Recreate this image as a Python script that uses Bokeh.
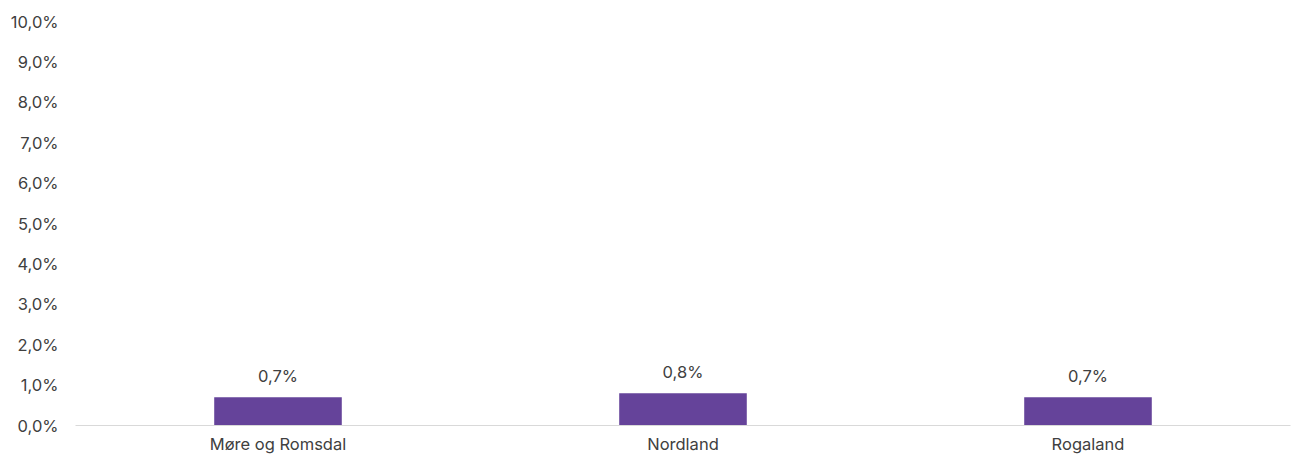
from bokeh.plotting import figure
from bokeh.models import ColumnDataSource, FixedTicker, Range1d
from bokeh.embed import file_html
from bokeh.resources import INLINE
from bokeh.core.properties import value

categories = ["Møre og Romsdal", "Nordland", "Rogaland"]
values = [0.7, 0.8, 0.7]
value_labels = ["0,7%", "0,8%", "0,7%"]
y_ticks = [0, 1, 2, 3, 4, 5, 6, 7, 8, 9, 10]
y_tick_labels = {t: f"{t},0%" for t in y_ticks}

FONT = "Inter"
FS = "16.5px"
TXT = "#404040"
BAR = "#65439A"

src = ColumnDataSource(dict(cat=categories, val=values, lab=value_labels))

p = figure(x_range=categories, y_range=Range1d(0, 10), width=1293, height=457,
           output_backend="svg", toolbar_location=None,
           min_border_left=75, min_border_right=3, min_border_top=21, min_border_bottom=32)
p.outline_line_color = None
p.xgrid.grid_line_color = None
p.ygrid.grid_line_color = None
p.x_range.range_padding = 0

p.vbar(x="cat", top="val", width=0.315, source=src, color=BAR, line_color=None)
p.text(x="cat", y="val", text="lab", source=src, text_align="center",
       text_baseline="bottom", y_offset=-11, text_font=value(FONT),
       text_font_size=FS, text_color=TXT)

p.yaxis.ticker = FixedTicker(ticks=y_ticks)
p.yaxis.major_label_overrides = y_tick_labels
p.yaxis.axis_line_color = None
p.yaxis.major_tick_line_color = None
p.yaxis.minor_tick_line_color = None
p.yaxis.major_label_text_font = FONT
p.yaxis.major_label_text_font_size = FS
p.yaxis.major_label_text_color = TXT
p.yaxis.major_label_standoff = 11

p.xaxis.axis_line_color = "#D9D9D9"
p.xaxis.axis_line_width = 1
p.xaxis.major_tick_line_color = None
p.xaxis.minor_tick_line_color = None
p.xaxis.major_label_text_font = FONT
p.xaxis.major_label_text_font_size = FS
p.xaxis.major_label_text_color = TXT
p.xaxis.major_label_standoff = 2

open("out.html", "w").write(file_html(p, INLINE))
